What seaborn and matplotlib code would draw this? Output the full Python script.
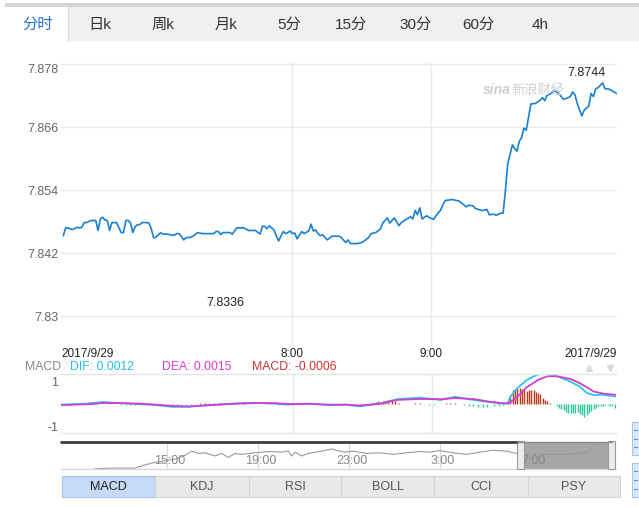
import numpy as np
import pandas as pd
import matplotlib
matplotlib.use('Agg')
import matplotlib.pyplot as plt
from matplotlib.patches import Rectangle
import seaborn as sns

# ==========================
# Data
# ==========================

# main price line, minutes since midnight (6:20 - 10:20)
main_minutes = [381, 382, 383, 384, 385, 387, 388, 389, 390, 391,
                393, 395, 396, 397, 398, 399, 400, 401, 402, 404,
                406, 407, 408, 409, 410, 411, 412, 413, 414, 415,
                417, 418, 419, 420, 421, 423, 424, 426, 428, 429,
                430, 431, 432, 433, 434, 436, 437, 439, 441, 446,
                447, 448, 449, 450, 453, 454, 456, 459, 461, 464,
                466, 467, 468, 469, 470, 472, 473, 474, 476, 477,
                478, 479, 480, 481, 482, 484, 485, 487, 488, 489,
                490, 491, 492,
                493, 495, 497, 500, 501, 503, 504, 505, 508, 510,
                511, 513, 514, 516, 518, 519, 521, 522, 524, 526,
                527, 529, 531, 532, 533, 534, 535, 536, 538, 539,
                541, 542, 544, 545, 546, 549, 551, 552, 554, 555,
                556, 558, 559, 561, 562, 564, 565, 567, 568, 570,
                571, 572, 573, 575, 576, 577, 578, 579, 580, 581,
                583, 585, 586, 587, 588, 589, 590, 591, 592, 593,
                595, 597, 598, 600, 601, 602, 603, 605, 606, 608,
                609, 610, 611, 612, 614, 615, 617, 618, 620]
main_price = [7.8453, 7.8468, 7.8468, 7.8466, 7.8465, 7.8469, 7.8468, 7.8469, 7.8478, 7.8478,
              7.8482, 7.8482, 7.8463, 7.8485, 7.8488, 7.8483, 7.8482, 7.8463, 7.8478, 7.8478,
              7.8459, 7.8459, 7.8482, 7.8482, 7.8478, 7.8459, 7.8470, 7.8474, 7.8474, 7.8478,
              7.8478, 7.8477, 7.8466, 7.8449, 7.8450, 7.8459, 7.8456, 7.8456, 7.8454, 7.8454,
              7.8457, 7.8457, 7.8452, 7.8445, 7.8449, 7.8450, 7.8452, 7.8459, 7.8457, 7.8457,
              7.8461, 7.8461, 7.8455, 7.8459, 7.8459, 7.8456, 7.8468, 7.8468, 7.8463, 7.8463,
              7.8456, 7.8471, 7.8471, 7.8466, 7.8472, 7.8464, 7.8453, 7.8443, 7.8461, 7.8457,
              7.8459, 7.8462, 7.8457, 7.8458, 7.8447, 7.8461, 7.8457, 7.8462, 7.8475, 7.8462,
              7.8464, 7.8457, 7.8453,
              7.8455, 7.8445, 7.8452, 7.8452, 7.8450, 7.8440, 7.8445, 7.8438, 7.8438, 7.8440,
              7.8443, 7.8450, 7.8457, 7.8459, 7.8466, 7.8477, 7.8487, 7.8477, 7.8487, 7.8472,
              7.8478, 7.8484, 7.8489, 7.8485, 7.8501, 7.8493, 7.8506, 7.8485, 7.8491, 7.8488,
              7.8484, 7.8491, 7.8502, 7.8512, 7.8520, 7.8522, 7.8520, 7.8519, 7.8512, 7.8508,
              7.8511, 7.8510, 7.8505, 7.8502, 7.8501, 7.8503, 7.8493, 7.8494, 7.8492, 7.8496,
              7.8496, 7.8539, 7.8590, 7.8626, 7.8619, 7.8614, 7.8633, 7.8640, 7.8658, 7.8654,
              7.8704, 7.8705, 7.8708, 7.8711, 7.8716, 7.8710, 7.8721, 7.8722, 7.8725, 7.8730,
              7.8724, 7.8713, 7.8714, 7.8718, 7.8727, 7.8722, 7.8705, 7.8681, 7.8692, 7.8700,
              7.8724, 7.8718, 7.8733, 7.8735, 7.8744, 7.8733, 7.8732, 7.8729, 7.8724]

y_ticks = [7.83, 7.842, 7.854, 7.866, 7.878]
y_tick_labels = ['7.83', '7.842', '7.854', '7.866', '7.878']
x_ticks = [380, 480, 540, 620]
x_tick_labels = ['2017/9/29', '8:00', '9:00', '2017/9/29']

max_label = (614, 7.8744)
min_label = (451, 7.8336)

# MACD panel
macd_minutes = [380, 386, 392, 398, 406, 414, 421, 428, 435, 442,
                450, 458, 464, 473, 478, 487, 496, 503, 509, 518,
                525, 535, 544, 550, 558, 565, 571, 573, 574, 577,
                581, 586, 590, 594, 600, 604, 607, 610, 614, 620]
dif = [-0.02, 0.0, 0.03, 0.1, 0.04, 0.0, -0.04, -0.12, -0.12, -0.05,
       0.0, 0.05, 0.06, 0.02, -0.02, 0.03, -0.05, -0.02, -0.1, 0.04,
       0.22, 0.29, 0.19, 0.33, 0.19, 0.09, 0.02, 0.07, 0.33, 0.71,
       1.07, 1.33, 1.34, 1.25, 1.0, 0.78, 0.5, 0.4, 0.42, 0.33]
dea = [-0.04, -0.02, 0.0, 0.05, 0.05, 0.02, -0.02, -0.08, -0.1, -0.06,
       -0.01, 0.03, 0.05, 0.04, 0.01, 0.01, -0.02, -0.02, -0.06, 0.02,
       0.19, 0.23, 0.22, 0.27, 0.23, 0.11, 0.04, 0.03, 0.08, 0.33,
       0.75, 1.08, 1.24, 1.24, 1.12, 0.93, 0.75, 0.56, 0.47, 0.41]

hist_minutes = [390, 391, 392, 393, 394, 395,
                406, 408, 410, 412,
                424, 426, 428, 430, 432, 434, 436,
                440, 442, 444, 446, 448,
                458, 459,
                474, 476, 478,
                489,
                495, 497, 499, 501, 503, 505, 507, 509,
                514, 516, 517, 519, 520, 521, 523, 524, 526,
                533, 535,
                539, 541,
                546, 548, 550,
                554, 556, 558, 560, 562, 564, 567, 569, 571,
                573, 574, 575, 576, 577, 578, 579, 580, 581, 582,
                583, 584, 585, 586, 587, 588, 589, 590, 591,
                594, 595, 596, 597, 598, 599, 600, 601, 602, 603,
                604, 605, 606, 607, 608, 609, 610, 611, 612, 613,
                614, 615, 616, 617, 618, 619]
hist_values = [0.06, 0.07, 0.08, 0.08, 0.07, 0.05,
               -0.03, -0.04, -0.04, -0.03,
               -0.03, -0.05, -0.06, -0.06, -0.05, -0.04, -0.03,
               0.05, 0.06, 0.06, 0.05, 0.04,
               0.03, 0.04,
               -0.04, -0.05, -0.04,
               0.04,
               -0.04, -0.05, -0.05, -0.04, -0.03, -0.03, -0.03, -0.03,
               0.06, 0.09, 0.12, 0.13, 0.16, 0.19, 0.16, 0.13, 0.07,
               0.05, 0.05,
               -0.02, -0.02,
               0.05, 0.05, 0.05,
               -0.04, -0.07, -0.09, -0.12, -0.13, -0.12, -0.1, -0.08, -0.05,
               0.16, 0.39, 0.61, 0.68, 0.73, 0.73, 0.68, 0.64, 0.58, 0.61,
               0.65, 0.61, 0.53, 0.49, 0.43, 0.28, 0.19, 0.13, 0.06,
               -0.1, -0.15, -0.21, -0.28, -0.36, -0.38, -0.4, -0.4, -0.38, -0.36,
               -0.43, -0.48, -0.55, -0.5, -0.4, -0.31, -0.2, -0.16, -0.1, -0.08,
               -0.06, -0.05, -0.04, -0.06, -0.1, -0.16]

# navigator (24 h overview), hours since 10:20 of the day before
nav_hours = [1.49, 2.37, 3.25, 3.69, 4.13, 4.57, 5.01, 5.45, 5.74, 6.04,
             6.33, 6.77, 7.06, 7.36, 7.65, 7.94, 8.53, 9.11, 9.70, 9.99,
             10.14, 10.29, 10.58, 10.87, 11.46, 11.90, 12.19, 12.48,
             12.85, 13.44, 14.02, 14.61, 15.20, 15.78, 16.22, 16.66, 17.24, 17.83,
             18.42, 19.00, 19.59, 20.03, 20.47, 21.05, 21.64, 22.23, 22.81, 23.18,
             23.33, 23.55, 23.84, 24.06]
nav_price = [7.8102, 7.8118, 7.8118, 7.8196, 7.8259, 7.8298, 7.8337, 7.8431, 7.8533, 7.8479,
             7.8494, 7.8416, 7.8479, 7.8377, 7.8479, 7.8455, 7.8494, 7.8526, 7.8510, 7.8541,
             7.8416, 7.8510, 7.8416, 7.8479, 7.8533, 7.8588, 7.8541, 7.8510,
             7.8533, 7.8479, 7.8494, 7.8455, 7.8494, 7.8526, 7.8510, 7.8549, 7.8494, 7.8455,
             7.8510, 7.8557, 7.8533, 7.8479, 7.8455, 7.8455, 7.8455, 7.8455, 7.8479, 7.8510,
             7.8651, 7.8714, 7.8714, 7.8745]
nav_tick_hours = [4.67, 8.67, 12.67, 16.67, 20.67]
nav_tick_labels = ['15:00', '19:00', '23:00', '3:00', '7:00']

tabs = ['分时', '日k', '周k', '月k', '5分', '15分', '30分', '60分', '4h']
indicators = ['MACD', 'KDJ', 'RSI', 'BOLL', 'CCI', 'PSY']

# ==========================
# Figure
# ==========================

sns.set_theme(style='white')
plt.rcParams['font.family'] = ['Liberation Sans', 'Noto Sans CJK SC']

W, H = 639, 507
fig = plt.figure(figsize=(W / 100, H / 100), dpi=100)
fig.patch.set_facecolor('white')


def px_axes(x0, y0, x1, y1, z=1):
    a = fig.add_axes([x0 / W, 1 - y1 / H, (x1 - x0) / W, (y1 - y0) / H])
    a.set_zorder(z)
    a.patch.set_alpha(0)
    return a


grid_c = '#e9e9e9'

# background / widget chrome in pixel coordinates
bg = px_axes(0, 0, W, H, z=0)
bg.set_xlim(0, W)
bg.set_ylim(H, 0)
bg.axis('off')

bg.add_patch(Rectangle((5, 3), W - 5, 4, color='#d5d5d5', lw=0))
bg.add_patch(Rectangle((5, 7), W - 5, 34, color='#f0f0f0', lw=0))
bg.add_patch(Rectangle((5, 7), 63, 34, color='white', lw=0))
bg.plot([68, 68], [7, 41], color='#dcdcdc', lw=1)
tab_x = [37.7, 100, 163, 226, 289, 351, 416, 478, 540]
for i, (tx, t) in enumerate(zip(tab_x, tabs)):
    bg.text(tx, 25, t, ha='center', va='center', fontsize=11,
            color='#2a6fc9' if i == 0 else '#333333')

# MACD header
hy = 367
bg.text(25, hy, 'MACD', ha='left', va='center', fontsize=8.8, color='#888888')
bg.text(70, hy, 'DIF: 0.0012', ha='left', va='center', fontsize=8.8, color='#22bde8')
bg.text(162, hy, 'DEA: 0.0015', ha='left', va='center', fontsize=8.8, color='#d63ad0')
bg.text(252, hy, 'MACD: -0.0006', ha='left', va='center', fontsize=8.8, color='#d03030')
bg.plot([589], [368], marker='^', ms=5, color='#d9d9d9', ls='none')
bg.plot([610], [368], marker='v', ms=5, color='#d9d9d9', ls='none')

# indicator buttons
btn_edges = [62, 155, 249, 341, 434, 528, 620]
for i, name in enumerate(indicators):
    x0, x1 = btn_edges[i], btn_edges[i + 1]
    bg.add_patch(Rectangle((x0, 476), x1 - x0, 21,
                           facecolor='#c6d9f7' if i == 0 else '#e9e9e9',
                           edgecolor='#a3bfea' if i == 0 else '#d4d4d4', lw=0.8))
    bg.text((x0 + x1) / 2, 486.5, name, ha='center', va='center', fontsize=9,
            color='#222222' if i == 0 else '#555555')

# side buttons (cut off at the right edge)
for y0, y1 in [(422, 455), (463, 497)]:
    bg.add_patch(Rectangle((632, y0), 10, y1 - y0, facecolor='#dce8fb',
                           edgecolor='#a8c4ee', lw=0.8))
    for yy in np.linspace(y0 + 8, y1 - 8, 3):
        bg.plot([634, 637], [yy, yy], color='#5a8ad8', lw=0.8)

# ---------- main price panel ----------
ax = px_axes(61, 63, 617, 347)
sns.lineplot(x=main_minutes, y=main_price, ax=ax, color='#1a80d0',
             linewidth=1.2, estimator=None, sort=False)
ax.set_xlim(380, 620.2)
ax.set_ylim(7.8241, 7.8782)
ax.set_yticks(y_ticks)
ax.set_yticklabels(y_tick_labels)
ax.set_xticks(x_ticks)
ax.set_xticklabels(x_tick_labels)
ax.yaxis.grid(True, color=grid_c, lw=1)
for t in [480, 540]:
    ax.axvline(t, color=grid_c, lw=1, zorder=0)
ax.tick_params(axis='y', length=0, pad=2, labelsize=9, labelcolor='#666666')
ax.tick_params(axis='x', length=0, pad=1, labelsize=8.5, labelcolor='#222222')
xl = ax.get_xticklabels()
xl[0].set_horizontalalignment('left')
xl[-1].set_horizontalalignment('right')
ax.get_yticklabels()[-1].set_verticalalignment('top')
for s in ax.spines.values():
    s.set_visible(False)
ax.set_xlabel('')
ax.set_ylabel('')

ax.annotate('7.8744', xy=max_label, xytext=(2, 3), textcoords='offset points',
            ha='right', va='bottom', fontsize=9, color='#222222')
ax.text(min_label[0], min_label[1], '7.8336', ha='center', va='top',
        fontsize=9, color='#222222')

# watermark
ax.text(0.758, 0.905, 'sina', transform=ax.transAxes, fontsize=10, style='italic',
        weight='bold', color='#cfcfcf', ha='left', va='center')
ax.text(0.81, 0.905, '新浪财经', transform=ax.transAxes, fontsize=9.5,
        color='#cfcfcf', ha='left', va='center')

# ---------- MACD panel ----------
am = px_axes(61, 374, 616, 433)
for t in [480, 540]:
    am.axvline(t, color=grid_c, lw=1, zorder=0)
hist_colors = ['#c23a1b' if v > 0 else '#2ec79a' for v in hist_values]
am.vlines(hist_minutes, 0, hist_values, colors=hist_colors, lw=1.0)
sns.lineplot(x=macd_minutes, y=dif, ax=am, color='#22c8f0', linewidth=1.3,
             estimator=None, sort=False)
sns.lineplot(x=macd_minutes, y=dea, ax=am, color='#d63ad0', linewidth=1.3,
             estimator=None, sort=False)
am.set_xlim(380, 619.6)
am.set_ylim(-1.28, 1.34)
am.set_xticks([])
am.set_yticks([-1, 1])
am.set_yticklabels(['-1', '1'])
am.tick_params(axis='y', length=0, pad=2, labelsize=9, labelcolor='#666666')
for k, s in am.spines.items():
    if k in ('top', 'bottom'):
        s.set_color('#e4e4e4')
        s.set_linewidth(1)
    else:
        s.set_visible(False)
am.set_xlabel('')
am.set_ylabel('')

# ---------- navigator ----------
an = px_axes(61, 442, 616, 469)
an.axvspan(20.3, 24.1, color='#a6a6a6', lw=0, zorder=0.5)
for h in nav_tick_hours:
    an.axvline(h, color='#d8d8d8', lw=0.8, zorder=0.4)
sns.lineplot(x=nav_hours, y=nav_price, ax=an, color='#9a9a9a', linewidth=0.8,
             estimator=None, sort=False)
for h, lab in zip(nav_tick_hours, nav_tick_labels):
    an.text(h + 0.1, 0.3, lab, transform=an.get_xaxis_transform(), ha='center',
            va='center', fontsize=9, color='#888888')
an.set_xlim(0, 24.4)
an.set_ylim(7.8095, 7.876)
an.set_xticks([])
an.set_yticks([])
for k, s in an.spines.items():
    if k == 'bottom':
        s.set_color('#d8d8d8')
        s.set_linewidth(1)
    else:
        s.set_visible(False)
an.set_xlabel('')
an.set_ylabel('')

# navigator frame and handles on top
fr = px_axes(0, 0, W, H, z=3)
fr.set_xlim(0, W)
fr.set_ylim(H, 0)
fr.axis('off')
fr.plot([61, 517], [441.5, 441.5], color='#3c3c3c', lw=2)
fr.plot([517, 612], [441.5, 441.5], color='#8a8a8a', lw=1)
for hx in [517, 608]:
    fr.add_patch(Rectangle((hx, 441), 6.5, 28, facecolor='#ececec',
                           edgecolor='#9a9a9a', lw=0.8))

fig.savefig('out.png', dpi=100)
